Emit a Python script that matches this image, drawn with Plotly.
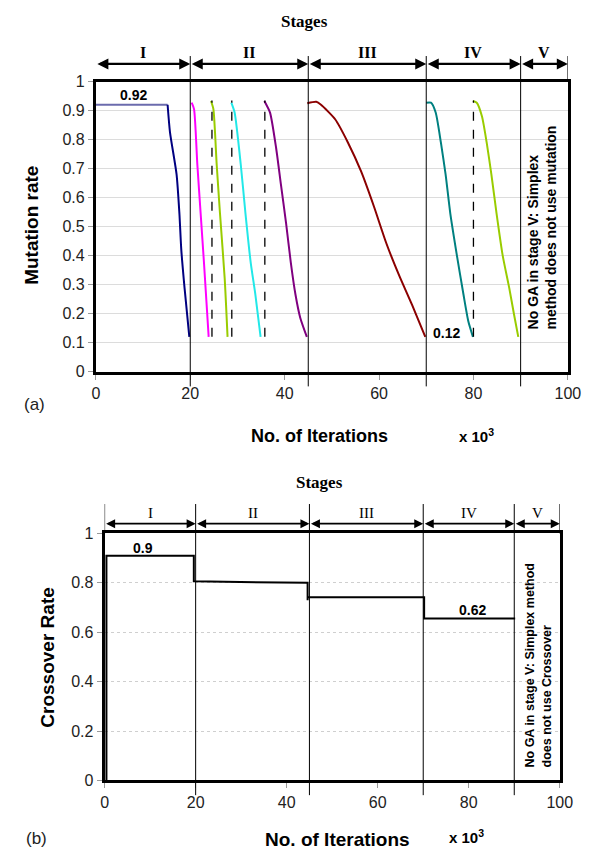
import plotly.graph_objects as go

W, H = 610, 862

# ---------------- data ----------------
stage_bounds = [0, 20, 45, 70, 90, 100]
stage_names = ["I", "II", "III", "IV", "V"]

# Panel (a): mutation rate curves (x in 10^3 iterations)
mut_series = [
    ("flat_I", "#6b6bad", [0, 15.2], [0.92, 0.92]),
    ("navy", "#000080", [15.2, 15.7, 17.1, 17.7, 18.1, 18.8, 19.8],
     [0.92, 0.826, 0.68, 0.545, 0.42, 0.287, 0.12]),
    ("magenta", "#ff00ff", [20.3, 20.8, 21.5, 22.2, 22.9, 23.9],
     [0.927, 0.905, 0.714, 0.545, 0.377, 0.12]),
    ("yellowgreen1", "#99cc00", [24.4, 24.9, 25.6, 26.3, 27.3, 27.9],
     [0.933, 0.905, 0.714, 0.545, 0.32, 0.12]),
    ("cyan", "#22e8e8", [28.7, 29.4, 30.7, 31.7, 32.8, 33.8, 34.9],
     [0.927, 0.893, 0.714, 0.545, 0.377, 0.265, 0.12]),
    ("purple", "#800080", [35.7, 36.9, 38.2, 39.2, 40.3, 41.3, 42.3, 43.3, 44.7],
     [0.933, 0.893, 0.77, 0.646, 0.512, 0.377, 0.265, 0.186, 0.12]),
    ("darkred", "#8b0000", [44.8, 46.7, 47.7, 50.7, 53.4, 56.2, 58.9, 61.6, 64.3, 67.0, 69.8],
     [0.925, 0.93, 0.92, 0.87, 0.79, 0.69, 0.57, 0.44, 0.33, 0.23, 0.12]),
    ("teal", "#008080", [70.0, 71.0, 72.0, 73.1, 74.1, 75.1, 76.5, 77.9, 78.9, 79.9],
     [0.927, 0.927, 0.893, 0.79, 0.68, 0.545, 0.40, 0.265, 0.175, 0.12]),
    ("yellowgreen2", "#99cc00", [79.9, 80.7, 81.8, 82.8, 83.8, 84.9, 86.2, 87.6, 88.6, 89.5],
     [0.933, 0.927, 0.88, 0.79, 0.68, 0.545, 0.40, 0.287, 0.197, 0.12]),
]
restart_x = [24.6, 28.8, 35.8, 80.0]
restart_y = [0.12, 0.935]

# Panel (b): crossover rate (step)
cross_x = [0.4, 0.4, 19.6, 19.6, 44.6, 44.6, 44.6, 70.2, 70.2, 90.2]
cross_y = [0.0, 0.91, 0.91, 0.806, 0.80, 0.73, 0.742, 0.742, 0.656, 0.656]

# ---------------- layout helpers ----------------
def px(x):
    return x / W

def py(y):
    return 1 - y / H

fig = go.Figure()

for name, col, xs, ys in mut_series:
    fig.add_trace(go.Scatter(x=xs, y=ys, mode="lines",
                             line=dict(color=col, width=2, shape="spline", smoothing=0.6),
                             xaxis="x", yaxis="y", showlegend=False, hoverinfo="skip"))
for dx in restart_x:
    fig.add_trace(go.Scatter(x=[dx, dx], y=restart_y, mode="lines",
                             line=dict(color="black", width=1.3, dash="dash"),
                             xaxis="x", yaxis="y", showlegend=False, hoverinfo="skip"))

fig.add_trace(go.Scatter(x=cross_x, y=cross_y, mode="lines", line=dict(color="black", width=2),
                         xaxis="x2", yaxis="y2", showlegend=False, hoverinfo="skip"))

tickfont = dict(family="Liberation Sans, Arial", size=16, color="#222")
axis_common = dict(showline=True, linewidth=3, linecolor="black", mirror=True,
                   ticks="outside", ticklen=5, tickcolor="#999", zeroline=False,
                   tickfont=tickfont)

fig.update_layout(
    width=W, height=H, margin=dict(l=0, r=0, t=0, b=0),
    paper_bgcolor="white", plot_bgcolor="white",
    xaxis=dict(domain=[px(94.5), px(580)], range=[0, 100], dtick=20, showgrid=False,
               anchor="y", **axis_common),
    yaxis=dict(domain=[py(371), py(75)], range=[0, 1], dtick=0.1, showgrid=True,
               gridcolor="#dcdcdc", gridwidth=1, anchor="x", **axis_common),
    xaxis2=dict(domain=[px(103.5), px(571.7)], range=[0, 100], dtick=20, showgrid=False,
                anchor="y2", **axis_common),
    yaxis2=dict(domain=[py(788), py(536)], range=[0, 1], dtick=0.2, showgrid=True,
                gridcolor="#cfcfcf", gridwidth=1, griddash="dot", anchor="x2", **axis_common),
)

shapes = []
annotations = []

# stage boundaries, arrows and roman numerals (vertical positions in page pixels)
panels = [
    dict(xr="x", box_top=75, top=49, bot=386, arr=57, rom=45,
         romfont=dict(family="Liberation Serif", size=16, color="black"),
         aw=2.2, skip0=True, rom_bold=True),
    dict(xr="x2", box_top=536, top=506, bot=803, arr=526, rom=515,
         romfont=dict(family="Liberation Serif", size=15, color="black"),
         aw=1.8, skip0=False, rom_bold=False),
]
for p in panels:
    for b in stage_bounds:
        if b == 0 and p["skip0"]:
            continue
        ybot = p["box_top"] if b in (0, 100) else p["bot"]
        shapes.append(dict(type="line", xref=p["xr"], yref="paper", x0=b, x1=b,
                           y0=py(ybot), y1=py(p["top"]),
                           line=dict(color="black", width=1), layer="above"))
    for i, nm in enumerate(stage_names):
        a, b = stage_bounds[i], stage_bounds[i + 1]
        annotations.append(dict(xref=p["xr"], yref="paper", x=b, y=py(p["arr"]),
                                axref=p["xr"], ax=a, ayref="pixel", ay=0,
                                text="", showarrow=True,
                                arrowhead=2, startarrowhead=2, arrowside="end+start",
                                arrowsize=1, startarrowsize=1, arrowwidth=p["aw"],
                                arrowcolor="black", standoff=0, startstandoff=0))
        annotations.append(dict(xref=p["xr"], yref="paper", x=(a + b) / 2, y=py(p["rom"]),
                                text=f"<b>{nm}</b>" if p["rom_bold"] else nm,
                                showarrow=False, xanchor="center", yanchor="middle",
                                font=p["romfont"]))

bold_sans = dict(family="Liberation Sans, Arial", color="black")

def lab(x, y, text, font, **kw):
    d = dict(xref="paper", yref="paper", x=px(x), y=py(y), text=text, showarrow=False,
             xanchor="center", yanchor="middle", font=font)
    d.update(kw)
    return d

annotations += [
    lab(309, 14, "<b>Stages</b>", dict(family="Liberation Serif", size=17, color="black")),
    lab(325, 484, "<b>Stages</b>", dict(family="Liberation Serif", size=17, color="black")),
    lab(31, 404, "(a)", dict(family="Liberation Sans", size=17, color="#222")),
    lab(33, 847, "(b)", dict(family="Liberation Sans", size=17, color="#222")),
    lab(325, 437, "<b>No. of Iterations</b>", dict(size=18, **bold_sans)),
    lab(486, 436, "<b>x 10<sup>3</sup></b>", dict(size=15, **bold_sans)),
    lab(343, 848, "<b>No. of Iterations</b>", dict(size=19, **bold_sans)),
    lab(476, 845, "<b>x 10<sup>3</sup></b>", dict(size=15, **bold_sans)),
    lab(28, 222, "<b>Mutation rate</b>", dict(size=19, **bold_sans), textangle=-90),
    lab(45, 663, "<b>Crossover Rate</b>", dict(size=19, **bold_sans), textangle=-90),
]

annotations += [
    dict(xref="x", yref="y", x=8.0, y=0.952, text="<b>0.92</b>", showarrow=False,
         font=dict(size=14, **bold_sans)),
    dict(xref="x", yref="y", x=74.3, y=0.133, text="<b>0.12</b>", showarrow=False,
         font=dict(size=14, **bold_sans)),
    dict(xref="x2", yref="y2", x=8.4, y=0.94, text="<b>0.9</b>", showarrow=False,
         font=dict(size=14, **bold_sans)),
    dict(xref="x2", yref="y2", x=80.9, y=0.69, text="<b>0.62</b>", showarrow=False,
         font=dict(size=14, **bold_sans)),
    dict(xref="x", yref="y", x=94.6, y=0.14, yanchor="bottom", xanchor="center",
         text="<b>No GA in stage V: Simplex<br>method does not use mutation</b>", showarrow=False,
         textangle=-90, align="left", font=dict(size=14, **bold_sans)),
    dict(xref="x2", yref="y2", x=95.2, y=0.044, yanchor="bottom", xanchor="center",
         text="<b>No GA in stage V: Simplex method<br>does not use Crossover</b>", showarrow=False,
         textangle=-90, align="left", font=dict(size=12.5, **bold_sans)),
]

fig.update_layout(shapes=shapes, annotations=annotations)
fig.write_html("out.html")
